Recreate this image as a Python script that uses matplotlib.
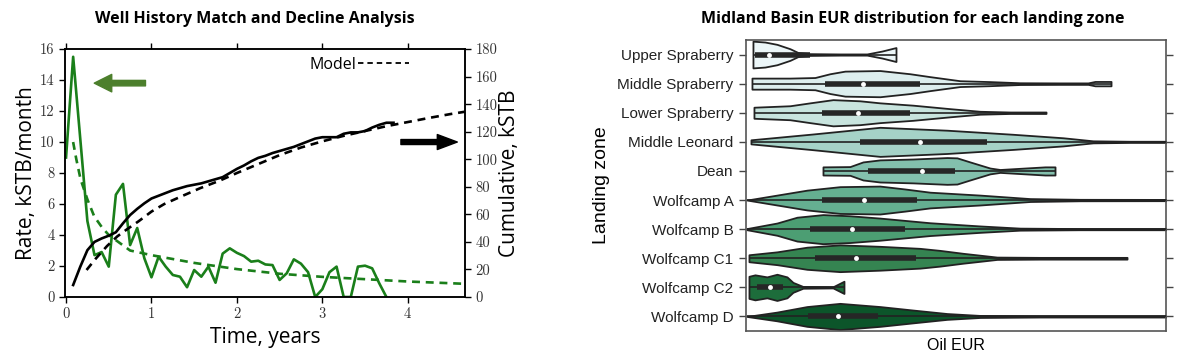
import numpy as np
import matplotlib
matplotlib.use("Agg")
import matplotlib.pyplot as plt
from matplotlib.lines import Line2D
import seaborn as sns

# ---- left panel: well history (monthly production) ----
rate_t = np.arange(46) / 12.0
rate = [9.0, 15.5, 10.2, 4.9, 2.7, 2.9, 1.96, 6.6, 7.3, 3.35, 4.45, 2.5,
        1.27, 2.6, 1.96, 1.42, 1.31, 0.63, 1.74, 1.31, 1.96, 0.92, 2.8, 3.14,
        2.85, 2.64, 2.28, 2.34, 2.1, 2.06, 1.1, 1.53, 2.43, 2.15, 1.6, 0.0,
        0.5, 1.6, 1.96, 0.0, 0.0, 1.96, 2.02, 1.85, 0.88, 0.0]

cum_t = np.arange(1, 47) / 12.0
cum = [8.7, 22, 34, 40, 42.5, 44.5, 47, 53.5, 59.5, 64, 68, 71.5, 73.5, 75.5,
       77.5, 79, 80.5, 81.5, 82.5, 84, 85.5, 87, 90, 93, 95.5, 98.5, 101,
       102.5, 104.5, 106, 107.5, 109, 111, 113, 115, 116, 116, 116, 118.5,
       119.5, 119.5, 120.5, 123, 125, 126.5, 126.5]

model_rate_t = [0.083, 0.12, 0.17, 0.25, 0.33, 0.42, 0.5, 0.6, 0.75, 1.0, 1.25,
                1.5, 1.75, 2.0, 2.5, 3.0, 3.5, 4.0, 4.67]
model_rate = [10.0, 8.9, 7.6, 6.3, 5.2, 4.5, 4.0, 3.6, 3.0, 2.7, 2.45, 2.2,
              2.0, 1.8, 1.5, 1.3, 1.15, 1.0, 0.85]

model_cum_t = [0.24, 0.35, 0.48, 0.6, 0.71, 0.85, 1.0, 1.15, 1.33, 1.57, 1.8,
               2.0, 2.25, 2.5, 2.75, 3.0, 3.25, 3.5, 3.75, 4.0, 4.25, 4.5, 4.67]
model_cum = [19.6, 28, 37, 44, 49, 55, 62, 67.5, 72.5, 79, 84.5, 90, 96.5,
             103, 108.5, 113, 117, 120.5, 124, 127, 130, 132.8, 134.5]

# ---- right panel: EUR violins (profiles) ----
zones = ["Upper Spraberry", "Middle Spraberry", "Lower Spraberry",
         "Middle Leonard", "Dean", "Wolfcamp A", "Wolfcamp B",
         "Wolfcamp C1", "Wolfcamp C2", "Wolfcamp D"]

prof_x = [
    [17.5, 47.5, 77.5, 110, 130, 160, 235, 302.5, 340, 375],
    [15, 110, 172.5, 210, 247.5, 335, 410, 460, 535, 610, 685, 785, 855, 872.5, 912.5],
    [20, 110, 160, 217.5, 285, 335, 417.5, 510, 585, 660, 750],
    [12.5, 167.5, 335, 502.5, 667.5, 792.5, 867.5, 960, 1135],
    [192.5, 260, 292.5, 335, 417.5, 502.5, 527.5, 560, 610, 635, 685, 747.5, 772.5],
    [2.5, 77.5, 152.5, 235, 335, 397.5, 460, 585, 710, 835, 1135],
    [2.5, 77.5, 127.5, 192.5, 260, 335, 460, 585, 685, 835, 1135],
    [7.5, 77.5, 152.5, 235, 335, 435, 485, 542.5, 627.5, 735, 952.5],
    [7.5, 22.5, 52.5, 77.5, 102.5, 117.5, 142.5, 217.5, 245],
    [2.5, 77.5, 152.5, 235, 335, 417.5, 502.5, 585, 735, 1135],
]
prof_w = [
    [0.46, 0.43, 0.35, 0.20, 0.07, 0.03, 0.02, 0.02, 0.12, 0.24],
    [0.19, 0.19, 0.21, 0.34, 0.43, 0.45, 0.34, 0.24, 0.10, 0.07, 0.03, 0.025, 0.025, 0.075, 0.075],
    [0.19, 0.24, 0.34, 0.45, 0.41, 0.34, 0.26, 0.14, 0.05, 0.025, 0.025],
    [0.07, 0.27, 0.50, 0.40, 0.26, 0.14, 0.035, 0.02, 0.02],
    [0.14, 0.15, 0.31, 0.38, 0.41, 0.46, 0.45, 0.31, 0.10, 0.05, 0.09, 0.14, 0.14],
    [0.0, 0.17, 0.34, 0.46, 0.48, 0.38, 0.27, 0.17, 0.05, 0.025, 0.02],
    [0.02, 0.21, 0.41, 0.50, 0.46, 0.38, 0.22, 0.11, 0.035, 0.02, 0.02],
    [0.12, 0.22, 0.38, 0.46, 0.41, 0.34, 0.27, 0.17, 0.04, 0.03, 0.03],
    [0.38, 0.43, 0.36, 0.45, 0.36, 0.17, 0.03, 0.02, 0.21],
    [0.0, 0.15, 0.34, 0.45, 0.34, 0.22, 0.10, 0.035, 0.02, 0.02],
]
q1 = [22.5, 197.5, 190, 285, 305, 190, 160, 172.5, 27.5, 155]
med = [57.5, 292.5, 280, 435, 440, 295, 265, 275, 60, 230]
q3 = [160, 435, 410, 602.5, 522.5, 427.5, 397.5, 425, 92.5, 330]

fig = plt.figure(figsize=(11.82, 3.58), dpi=100)

# ================= left panel =================
ax = fig.add_axes([0.055, 0.1704, 0.3384, 0.6926])
ax2 = ax.twinx()
green = "#1a7f1a"
ax.plot(rate_t, rate, color=green, lw=1.9)
ax.plot(model_rate_t, model_rate, color=green, lw=1.9, ls=(0, (3, 2.2)))
ax2.plot(cum_t, cum, color="black", lw=1.9)
ax2.plot(model_cum_t, model_cum, color="black", lw=1.9, ls=(0, (3, 2.2)))

ax.set_xlim(-0.012, 4.67)
ax.set_ylim(0, 16)
ax2.set_ylim(0, 180)
ax.set_yticks(range(0, 17, 2))
ax.set_xticks(range(0, 5))
ax2.set_yticks(range(0, 181, 20))
ax.tick_params(direction="out", length=4, width=1, top=True, labelsize=10.5)
ax2.tick_params(direction="out", length=4, width=1, labelsize=10.5)
for lbl in ax.get_xticklabels() + ax.get_yticklabels() + ax2.get_yticklabels():
    lbl.set_fontfamily("cmr10")
    lbl.set_color("#333333")
for a in (ax, ax2):
    for s in a.spines.values():
        s.set_linewidth(1.1)

ax.set_xlabel("Time, years", fontsize=15, family="Open Sans", labelpad=4)
ax.set_ylabel("Rate, kSTB/month", fontsize=15, family="Open Sans", labelpad=2)
ax2.set_ylabel("Cumulative, kSTB", fontsize=15, family="Open Sans", labelpad=1)
fig.text(0.2157, 0.948, "Well History Match and Decline Analysis", fontsize=11.5,
         fontweight="bold", family="Open Sans", ha="center", va="center")

ax.annotate("", xy=(0.33, 13.8), xytext=(0.93, 13.8),
            arrowprops=dict(arrowstyle="simple,head_width=0.7,head_length=0.7,tail_width=0.22",
                            color="#4c7f2c", mutation_scale=18, shrinkA=0, shrinkB=0))
ax.annotate("", xy=(4.58, 10.0), xytext=(3.92, 10.0),
            arrowprops=dict(arrowstyle="simple,head_width=0.6,head_length=0.8,tail_width=0.2",
                            color="black", mutation_scale=18, shrinkA=0, shrinkB=0))

handle = Line2D([], [], color="black", lw=1.3, ls=(0, (3, 2.2)))
ax.legend([handle], ["Model"], loc="upper right", bbox_to_anchor=(0.875, 0.995),
          frameon=False, markerfirst=False, handlelength=3.2, handletextpad=0.1,
          borderaxespad=0, prop={"family": "Open Sans", "size": 11.5})

# ================= right panel =================
bx = fig.add_axes([0.6311, 0.0754, 0.3554, 0.8129])
colors = sns.color_palette("BuGn", len(zones), desat=0.75)
edge = "#222222"
for i in range(len(zones)):
    x = np.array(prof_x[i])
    w = np.array(prof_w[i])
    bx.fill_between(x, i - w, i + w, facecolor=colors[i], edgecolor=edge,
                    lw=1.3, zorder=2)
    bx.plot([x[0], x[-1]], [i, i], color=edge, lw=1.2, zorder=3,
            solid_capstyle="butt")
    bx.plot([q1[i], q3[i]], [i, i], color="#262626", lw=4.0, zorder=4,
            solid_capstyle="butt")
    bx.plot(med[i], i, "o", color="white", ms=3.5, zorder=5, mec="none")

bx.set_xlim(0, 1050)
bx.set_ylim(9.5, -0.5)
bx.set_yticks(range(len(zones)))
bx.set_yticklabels(zones, fontsize=11, family="Liberation Sans", color="#222222")
bx.set_xticks([])
bx.tick_params(axis="y", direction="out", length=5, width=1, color="#444444",
               right=True, pad=4)
for s in bx.spines.values():
    s.set_color("#555555")
    s.set_linewidth(1.2)
bx.set_xlabel("Oil EUR", fontsize=11.5, family="Liberation Sans", labelpad=5)
bx.set_ylabel("Landing zone", fontsize=14, family="Liberation Sans", labelpad=5)
fig.text(0.7724, 0.948, "Midland Basin EUR distribution for each landing zone",
         fontsize=11.5, fontweight="bold", family="Open Sans", ha="center", va="center")

fig.savefig("out.png", dpi=100)
